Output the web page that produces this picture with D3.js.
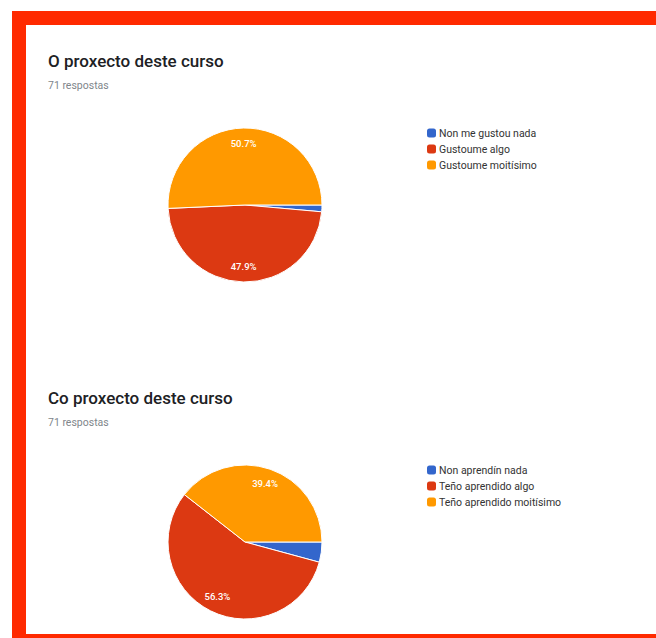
<!DOCTYPE html>
<html><head><meta charset="utf-8">
<script src="https://cdn.jsdelivr.net/npm/d3@7"></script>
<style>html,body{margin:0;padding:0;background:#fff;}</style>
</head><body>
<svg id="chart" width="656" height="638"></svg>
<script>
const titles = ["O proxecto deste curso", "Co proxecto deste curso"];
const subtitles = ["71 respostas", "71 respostas"];
const labels1 = ["Non me gustou nada", "Gustoume algo", "Gustoume moitísimo"];
const values1 = [1, 34, 36];
const labels2 = ["Non aprendín nada", "Teño aprendido algo", "Teño aprendido moitísimo"];
const values2 = [3, 40, 28];
const colors = ["#3366cc", "#dc3912", "#ff9900"];

const svg = d3.select("#chart");
// red frame
svg.append("rect").attr("x", 0).attr("y", 0).attr("width", 656).attr("height", 638).attr("fill", "#fff");
svg.append("rect").attr("x", 19).attr("y", 18).attr("width", 660).attr("height", 620)
  .attr("fill", "none").attr("stroke", "#ff2a00").attr("stroke-width", 14);
svg.append("rect").attr("x", 26).attr("y", 25).attr("width", 640).attr("height", 609).attr("fill", "#fff");

const color = d3.scaleOrdinal().domain([0,1,2]).range(colors);
const pie = d3.pie().sort(null).value(d => d).startAngle(Math.PI/2).endAngle(Math.PI/2 + 2*Math.PI);
const r = 77;
const arc = d3.arc().innerRadius(0).outerRadius(r);
const labelArc = d3.arc().innerRadius(r*0.8).outerRadius(r*0.8);

function block(y0, title, sub, labels, values) {
  const g = svg.append("g");
  g.append("text").attr("x", 48).attr("y", y0 + 67).text(title)
    .attr("font-family", "Roboto, Arial, sans-serif").attr("font-size", 17).attr("font-weight", 500).attr("fill", "#202124");
  g.append("text").attr("x", 48).attr("y", y0 + 89).text(sub)
    .attr("font-family", "Roboto, Arial, sans-serif").attr("font-size", 10.5).attr("fill", "#80868b");
  const total = d3.sum(values);
  const pg = g.append("g").attr("transform", `translate(245,${y0 + 205})`);
  const arcs = pie(values);
  pg.selectAll("path").data(arcs).join("path")
    .attr("d", arc).attr("fill", (d, i) => color(i)).attr("stroke", "#fff").attr("stroke-width", 1);
  pg.selectAll("text").data(arcs.filter(d => d.value / total > 0.05)).join("text")
    .attr("transform", d => { const c = labelArc.centroid(d); return `translate(${c[0]},${c[1]})`; })
    .attr("text-anchor", "middle").attr("dy", "0.35em")
    .attr("font-family", "Roboto, Arial, sans-serif").attr("font-size", 9.5).attr("font-weight", 500).attr("fill", "#fff")
    .text(d => (d.value / total * 100).toFixed(1) + "%");
  const lg = g.append("g").attr("transform", `translate(427,${y0 + 133})`);
  const items = lg.selectAll("g").data(labels).join("g").attr("transform", (d, i) => `translate(0,${i * 16})`);
  items.append("rect").attr("x", 0).attr("y", -4.5).attr("width", 9).attr("height", 9).attr("rx", 2.5)
    .attr("fill", (d, i) => color(i));
  items.append("text").attr("x", 12).attr("y", 0).attr("dy", "0.35em").text(d => d)
    .attr("font-family", "Roboto, Arial, sans-serif").attr("font-size", 10.5).attr("fill", "#333");
}
block(0, titles[0], subtitles[0], labels1, values1);
block(337, titles[1], subtitles[1], labels2, values2);
</script>
</body></html>
